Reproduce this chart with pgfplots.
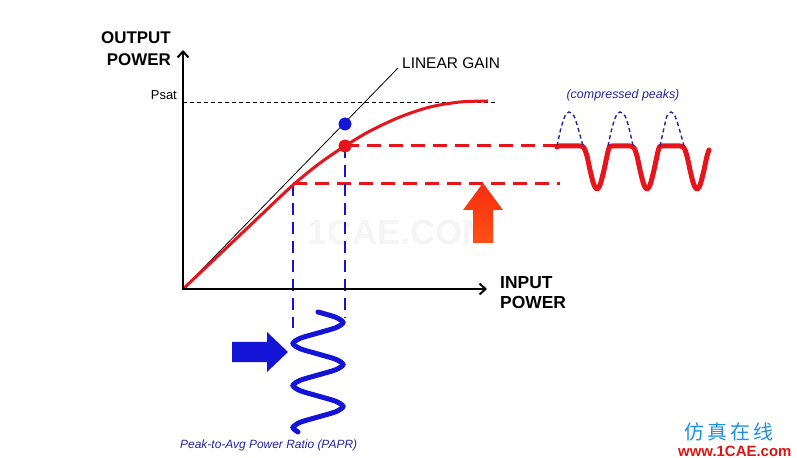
\documentclass[border=0pt]{standalone}
\usepackage{pgfplots}
\pgfplotsset{compat=1.18}
\usepackage{fontspec}
\setmainfont{Liberation Sans}
\newfontfamily\cjk{Noto Sans CJK SC}
\usetikzlibrary{arrows.meta}
\definecolor{cred}{RGB}{232,20,28}
\definecolor{cblue}{RGB}{20,20,215}
\definecolor{dblue}{RGB}{35,35,160}
\definecolor{corange}{RGB}{255,80,20}
\definecolor{corred}{RGB}{245,45,15}
\begin{document}
\begin{tikzpicture}
\begin{axis}[
  x=1bp, y=1bp, xmin=0, xmax=797, ymin=0, ymax=458,
  y dir=reverse, hide axis, scale only axis, clip=false,
]
\path (axis cs:0,0) rectangle (axis cs:797,458);
% watermark
\node[text=black!4, font=\bfseries\fontsize{35}{37}\selectfont] at (axis cs:400,232) {1CAE.COM};
% psat dashed
\addplot[black, line width=0.7bp, dash pattern=on 4bp off 3bp] coordinates {(183,102) (498,102)};
% linear gain line
\addplot[black, line width=0.8bp] coordinates {(183,289) (398,68)};
% red dashed horizontals
\addplot[cred, line width=3bp, dash pattern=on 14bp off 8bp] coordinates {(345,146) (560,146)};
\addplot[cred, line width=3bp, dash pattern=on 14bp off 8bp] coordinates {(293,184) (560,184)};
% blue dashed verticals
\addplot[cblue, line width=2.6bp, dash pattern=on 12bp off 7bp] coordinates {(293,184) (293,328)};
\addplot[cblue, line width=2.6bp, dash pattern=on 12bp off 7bp] coordinates {(345,146) (345,318)};
% red transfer curve
\addplot[cred, line width=3bp, smooth] coordinates {
 (183,289) (220,254) (260,216) (293,185) (320,163) (345,146)
 (370,131) (400,117) (430,107) (460,102) (488,101)};
% axes
\addplot[black, line width=2bp, -{Straight Barb[length=6bp,width=11bp]}] coordinates {(183,290) (183,50)};
\addplot[black, line width=2bp, -{Straight Barb[length=6bp,width=11bp]}] coordinates {(182,289) (487,289)};
% dots
\addplot[only marks, mark=*, mark size=6.2bp, mark options={fill=cblue, draw=cblue}] coordinates {(345,124)};
\addplot[only marks, mark=*, mark size=6.2bp, mark options={fill=cred, draw=cred}] coordinates {(345,146)};
% orange arrow
\addplot[draw=none, top color=corred, bottom color=corange] coordinates {
 (473,243) (493,243) (493,210) (503,210) (483,183) (463,210) (473,210)} --cycle;
% blue arrow
\addplot[draw=none, fill=cblue] coordinates {
 (232,342) (267,342) (267,332) (288,352) (267,372) (267,362) (232,362)} --cycle;
% compressed output waveform
\addplot[cred, line width=5bp, smooth, tension=0.5, line cap=round, line join=round] coordinates {
 (557,147) (559,146) (580,146) (584,148) (587,156) (590,170) (593,182) (595,187) (597,189) (599,187) (601,182) (604,170) (607,156) (609,148) (612,146)
 (630,146) (634,148) (637,156) (640,170) (643,182) (645,187) (647,189) (649,187) (651,182) (654,170) (657,156) (659,148) (662,146)
 (680,146) (684,148) (687,156) (690,170) (693,182) (695,187) (697,189) (699,187) (701,182) (704,170) (707,156) (709,150)};
% uncompressed peaks
\addplot[dblue, line width=1.4bp, dash pattern=on 4bp off 3bp, smooth] coordinates {
 (557,146) (561,128) (565,116) (569,112) (574,116) (578,128) (583,146)};
\addplot[dblue, line width=1.4bp, dash pattern=on 4bp off 3bp, smooth] coordinates {
 (608,146) (612,128) (616,116) (620,112) (625,116) (629,128) (633,146)};
\addplot[dblue, line width=1.4bp, dash pattern=on 4bp off 3bp, smooth] coordinates {
 (660,146) (664,128) (667,116) (671,112) (675,116) (679,128) (684,146)};
% input waveform (vertical sine)
\addplot[cblue, line width=5bp, smooth, line cap=round] coordinates {
 (318,312) (335.7,317.25) (343,322.5) (335.7,327.75) (318,333) (300.3,338.25) (293,343.5) (300.3,348.75)
 (318,354) (335.7,359.25) (343,364.5) (335.7,369.75) (318,375) (300.3,380.25) (293,385.5) (300.3,390.75)
 (318,396) (335.7,401.25) (343,406.5) (335.7,411.75) (318,417) (300.3,422.25) (293,427.5) (298,432)};
% texts
\node[anchor=east, inner sep=0, font=\bfseries\fontsize{17}{20}\selectfont] at (axis cs:171,38) {OUTPUT};
\node[anchor=east, inner sep=0, font=\bfseries\fontsize{17}{20}\selectfont] at (axis cs:171,60) {POWER};
\node[anchor=west, inner sep=0, font=\bfseries\fontsize{17.5}{20}\selectfont] at (axis cs:500,283) {INPUT};
\node[anchor=west, inner sep=0, font=\bfseries\fontsize{17.5}{20}\selectfont] at (axis cs:500,302) {POWER};
\node[anchor=east, inner sep=0, font=\fontsize{13}{15}\selectfont] at (axis cs:177,95) {Psat};
\node[anchor=west, inner sep=0, font=\fontsize{15.5}{18}\selectfont] at (axis cs:402,63) {LINEAR GAIN};
\node[inner sep=0, text=dblue, font=\itshape\fontsize{12.5}{14}\selectfont] at (axis cs:623,95) {(compressed peaks)};
\node[anchor=west, inner sep=0, text=dblue, font=\itshape\fontsize{12}{14}\selectfont] at (axis cs:180,445) {Peak-to-Avg Power Ratio (PAPR)};
% logo
\node[anchor=west, inner sep=0, text={rgb,255:red,30;green,144;blue,230}, font=\cjk\fontsize{20}{22}\selectfont] at (axis cs:684,432) {仿\,真\,在\,线};
\node[anchor=west, inner sep=0, text={rgb,255:red,220;green,20;blue,20}, font=\bfseries\fontsize{15}{17}\selectfont] at (axis cs:678,451) {www.1CAE.com};
\end{axis}
\end{tikzpicture}
\end{document}
